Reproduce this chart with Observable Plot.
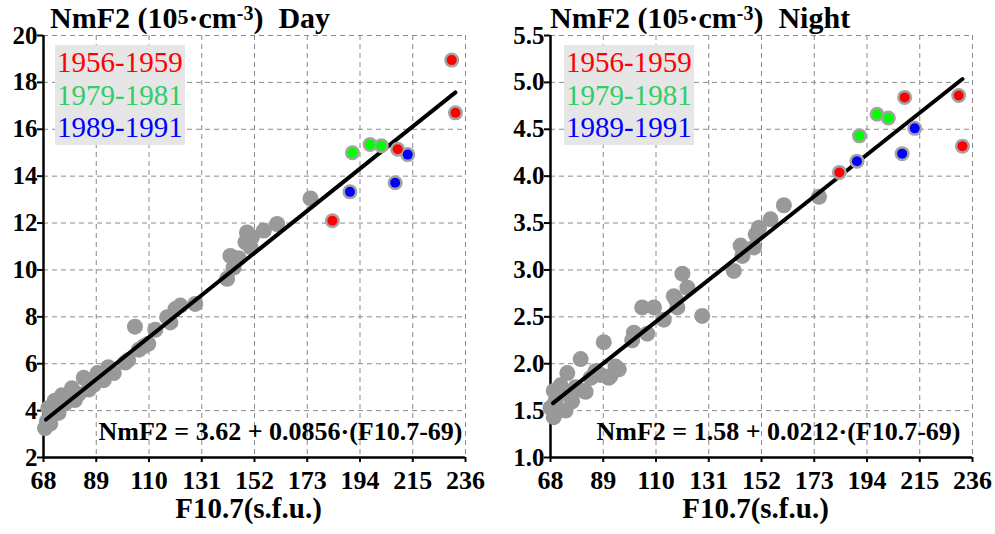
<!DOCTYPE html>
<html><head><meta charset="utf-8">
<script src="https://cdn.jsdelivr.net/npm/d3@7"></script>
<script src="https://cdn.jsdelivr.net/npm/@observablehq/plot@0.6"></script>
<style>
body{margin:0;background:#fff;}
#wrap{position:relative;width:995px;height:534px;overflow:hidden;font-family:"Liberation Serif","Times New Roman",serif;}
.panel{position:absolute;top:0;}
.title{position:absolute;top:3px;font-size:30px;font-weight:bold;white-space:pre;line-height:30px;color:#000;}
.title .s1{font-size:22px;position:relative;top:-4px;}
.title .s2{font-size:20px;position:relative;top:-8px;}
.legend{position:absolute;top:45px;width:130px;height:100px;background:#e6e6e6;font-size:29px;line-height:32.5px;padding-top:1px;box-sizing:border-box;}
.legend div{padding-left:2px;white-space:pre;}
</style>
</head><body>
<div id="wrap"></div>
<script>
// ---------- data ----------
const xTicks = [68, 89, 110, 131, 152, 173, 194, 215, 236];
const dayTicks = [2, 4, 6, 8, 10, 12, 14, 16, 18, 20];
const nightTicks = [1.0, 1.5, 2.0, 2.5, 3.0, 3.5, 4.0, 4.5, 5.0, 5.5];

const periods = ["1956-1959", "1979-1981", "1989-1991"];
const periodDotColors = ["#ff0000", "#00ff00", "#0000ff"];
const periodTextColors = ["#ff0000", "#33cc66", "#0000ff"];

// highlighted solar-maximum points
const periodOf = ["1956-1959","1956-1959","1956-1959","1956-1959","1979-1981","1979-1981","1979-1981","1989-1991","1989-1991","1989-1991"];
const periodF = [183, 209, 230.5, 232, 191, 198, 202.5, 190, 208, 213];
const periodDay = [12.1, 15.15, 18.95, 16.7, 15.0, 15.35, 15.3, 13.33, 13.72, 14.92];
const periodNight = [4.04, 4.84, 4.86, 4.32, 4.43, 4.66, 4.62, 4.16, 4.24, 4.51];

// other years (gray)
const dayF = [68.6, 69.4, 70.7, 69.9, 72, 72.5, 74, 75.3, 76.6, 78, 79.3, 80.5, 82, 84, 85.8, 86, 88, 89.5, 90.6, 92, 93.8, 96, 100.5, 101.7, 104.4, 106, 108, 109.7, 112.5, 117.2, 118.5, 120.5, 122.5, 128.4, 141.1, 142.4, 143.7, 145.7, 148.4, 149, 150.4, 151, 155.7, 161, 174.3];
const dayNm = [3.25, 3.55, 3.45, 4.1, 4.2, 4.42, 3.9, 4.65, 4.3, 4.5, 4.95, 4.45, 4.7, 5.4, 5.3, 4.9, 5.1, 5.6, 5.5, 5.3, 5.85, 5.6, 6.05, 6.15, 7.58, 6.6, 6.75, 6.85, 7.45, 7.98, 7.76, 8.33, 8.48, 8.55, 9.62, 10.6, 10.1, 10.5, 11.18, 11.6, 10.97, 11.4, 11.68, 11.96, 13.05];
const nightF = [68, 69.3, 69.3, 70, 72, 74, 74.7, 76, 76.6, 78, 80, 81.3, 82, 84, 85.9, 88, 89.2, 91.2, 91.9, 93.9, 95.2, 100.5, 101.2, 104.5, 106.5, 109.2, 113.1, 117.1, 117.8, 118.5, 120.5, 122.5, 128.4, 141, 143.7, 144.4, 149, 149.7, 151, 155.6, 160.9, 174.9];
const nightNm = [1.53, 1.43, 1.71, 1.6, 1.77, 1.5, 1.9, 1.65, 1.6, 1.75, 2.05, 1.71, 1.7, 1.85, 1.92, 1.88, 2.23, 1.85, 1.87, 1.97, 1.94, 2.25, 2.33, 2.6, 2.32, 2.6, 2.47, 2.72, 2.69, 2.6, 2.96, 2.81, 2.51, 2.99, 3.26, 3.15, 3.24, 3.38, 3.45, 3.54, 3.69, 3.78];

// regression fits NmF2 = a + b*(F10.7-69)
const fitRange = [69, 232];
const dayFit = {a: 3.62, b: 0.0856};
const nightFit = {a: 1.58, b: 0.0212};
const dayEq = "NmF2 = 3.62 + 0.0856·(F10.7-69)";
const nightEq = "NmF2 = 1.58 + 0.0212·(F10.7-69)";
const xTitle = "F10.7(s.f.u.)";

// ---------- drawing ----------
const FONT = "Liberation Serif, Times New Roman, serif";
const wrap = document.getElementById("wrap");

function panel(o) {
  const gray = o.grayF.map((f, i) => ({f, v: o.grayV[i]}));
  const col = periodF.map((f, i) => ({f, v: o.colV[i], p: periodOf[i]}));
  const fit = fitRange.map(f => ({f, v: o.fit.a + o.fit.b * (f - 69)}));
  const gridStyle = {stroke: "#8a8a8a", strokeOpacity: 1, strokeWidth: 1, strokeDasharray: "5,4"};
  const svg = Plot.plot({
    width: o.width, height: 534,
    marginLeft: o.ml, marginRight: o.mr, marginTop: 35, marginBottom: 77,
    style: {fontFamily: FONT, background: "transparent", overflow: "visible"},
    x: {domain: [68, 236]},
    y: {domain: o.yDomain},
    color: {domain: periods, range: periodDotColors},
    marks: [
      Plot.gridX({ticks: xTicks, ...gridStyle}),
      Plot.gridY({ticks: o.yTicks, ...gridStyle}),
      Plot.axisX({ticks: xTicks, tickSize: 5, tickPadding: 8, fontSize: 26, fontWeight: "bold", label: null, strokeWidth: 2, fill: "black", stroke: "black"}),
      Plot.axisY({ticks: o.yTicks, tickFormat: o.yFmt, tickSize: 6, tickPadding: 0, fontSize: 25, fontWeight: "bold", label: null, strokeWidth: 2, fill: "black", stroke: "black"}),
      Plot.ruleX([68], {stroke: "black", strokeWidth: 2.5}),
      Plot.ruleY([o.yDomain[0]], {stroke: "black", strokeWidth: 2.5}),
      Plot.dot(gray, {x: "f", y: "v", r: 8, fill: "#999999", stroke: "none"}),
      Plot.line(fit, {x: "f", y: "v", stroke: "black", strokeWidth: 4}),
      Plot.dot(col, {x: "f", y: "v", r: 7.5, fill: "#a3a3a3", stroke: "none"}),
      Plot.dot(col, {x: "f", y: "v", r: 5, fill: "p", stroke: "none"}),
      Plot.text([o.eq], {text: d => d, frameAnchor: "bottom-right", textAnchor: "end", lineAnchor: "top", dx: o.eqDx, dy: -35.5, fontSize: 26, fontWeight: "bold", fill: "black"}),
      Plot.text([xTitle], {text: d => d, frameAnchor: "bottom", lineAnchor: "top", dx: -6, dy: 40, fontSize: 29, fontWeight: "bold", fill: "black"})
    ]
  });
  const div = document.createElement("div");
  div.className = "panel";
  div.style.left = o.left + "px";
  div.appendChild(svg);
  wrap.appendChild(div);

  const t = document.createElement("div");
  t.className = "title";
  t.style.left = o.titleX + "px";
  t.innerHTML = 'NmF2 (10<span class="s1">5</span>·cm<span class="s2">-3</span>)  ' + o.name;
  wrap.appendChild(t);

  const lg = document.createElement("div");
  lg.className = "legend";
  lg.style.left = o.legendX + "px";
  periods.forEach((p, i) => {
    const d = document.createElement("div");
    d.textContent = p;
    d.style.color = periodTextColors[i];
    lg.appendChild(d);
  });
  wrap.appendChild(lg);
}

panel({name: "Day", left: 0, width: 497, ml: 43, mr: 32, yDomain: [2, 20], yTicks: dayTicks, yFmt: d3.format("d"),
  grayF: dayF, grayV: dayNm, colV: periodDay, fit: dayFit, eq: dayEq, eqDx: -3, titleX: 50, legendX: 55});
panel({name: "Night", left: 497, width: 498, ml: 53, mr: 23, yDomain: [1, 5.5], yTicks: nightTicks, yFmt: d3.format(".1f"),
  grayF: nightF, grayV: nightNm, colV: periodNight, fit: nightFit, eq: nightEq, eqDx: -12, titleX: 550, legendX: 564});
</script>
</body></html>
